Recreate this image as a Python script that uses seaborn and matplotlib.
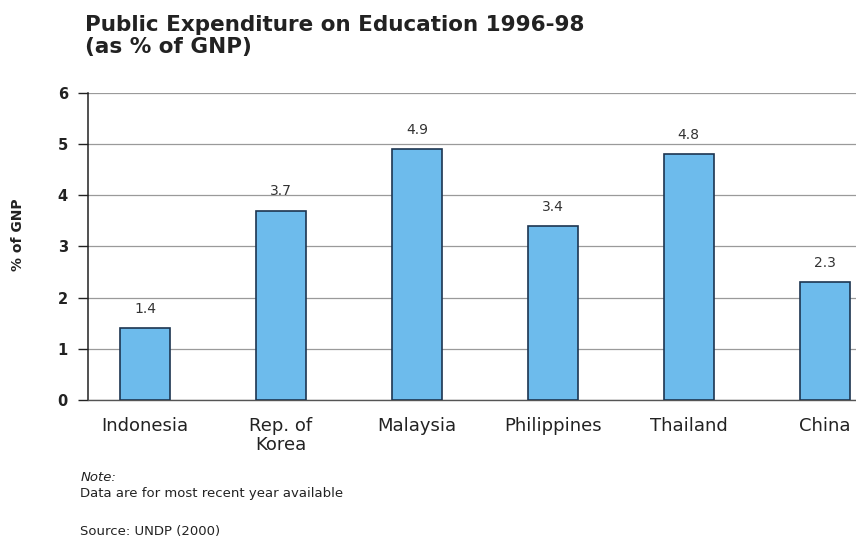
import matplotlib
matplotlib.use("Agg")
import matplotlib.pyplot as plt
import pandas as pd
import seaborn as sns

COUNTRIES = ["Indonesia", "Rep. of\nKorea", "Malaysia", "Philippines", "Thailand", "China"]
VALUES = [1.4, 3.7, 4.9, 3.4, 4.8, 2.3]
LABELS = ["1.4", "3.7", "4.9", "3.4", "4.8", "2.3"]
Y_TICKS = [0, 1, 2, 3, 4, 5, 6]

BAR_COLOR = "#6dbbec"
EDGE_COLOR = "#1d3550"
TEXT_COLOR = "#222222"

sns.set_theme(style="white")
plt.rcParams["font.family"] = ["DejaVu Sans"]

df = pd.DataFrame({"country": COUNTRIES, "value": VALUES})

fig = plt.figure(figsize=(8.56, 5.4), dpi=100)
ax = fig.add_axes([0.1028, 0.2593, 0.8972, 0.5685])

sns.barplot(
    data=df,
    x="country",
    y="value",
    color=BAR_COLOR,
    edgecolor=EDGE_COLOR,
    linewidth=1.2,
    width=0.37,
    saturation=1,
    ax=ax,
    zorder=3,
)

for patch, label in zip(ax.patches, LABELS):
    ax.annotate(
        label,
        (patch.get_x() + patch.get_width() / 2, patch.get_height()),
        xytext=(0, 9),
        textcoords="offset points",
        ha="center",
        va="bottom",
        fontsize=10,
        color="#333333",
    )

ax.set_ylim(0, 6)
ax.set_xlim(-0.42, 5.23)
ax.set_yticks(Y_TICKS)
ax.yaxis.grid(True, color="#9a9a9a", linewidth=0.9, zorder=0)
ax.xaxis.grid(False)
for side in ["top", "right"]:
    ax.spines[side].set_visible(False)
ax.spines["left"].set_color("#222222")
ax.spines["left"].set_linewidth(1.1)
ax.spines["bottom"].set_color("#555555")
ax.spines["bottom"].set_linewidth(1.0)

ax.tick_params(axis="y", length=7.5, width=1, color="#222222", direction="out",
               labelsize=10.5, labelcolor=TEXT_COLOR, pad=7, left=True)
ax.tick_params(axis="x", length=0, labelsize=13, labelcolor=TEXT_COLOR, pad=12)
for t in ax.get_yticklabels():
    t.set_fontweight("bold")
for t in ax.get_xticklabels():
    t.set_linespacing(1.1)

ax.set_xlabel("")
ax.set_ylabel("% of GNP", fontsize=10, fontweight="bold", color=TEXT_COLOR)
ax.yaxis.set_label_coords(-0.082, 0.54)

fig.text(0.099, 0.953, "Public Expenditure on Education 1996-98", fontsize=15.5,
         fontweight="bold", color=TEXT_COLOR, ha="left", va="center")
fig.text(0.099, 0.913, "(as % of GNP)", fontsize=15.5, fontweight="bold",
         color=TEXT_COLOR, ha="left", va="center")

fig.text(0.094, 0.115, "Note:", fontsize=9.5, style="italic", color=TEXT_COLOR,
         ha="left", va="center")
fig.text(0.094, 0.087, "Data are for most recent year available", fontsize=9.5,
         color=TEXT_COLOR, ha="left", va="center")
fig.text(0.094, 0.015, "Source: UNDP (2000)", fontsize=9.5, color=TEXT_COLOR,
         ha="left", va="center")

fig.savefig("out.png", dpi=100)
